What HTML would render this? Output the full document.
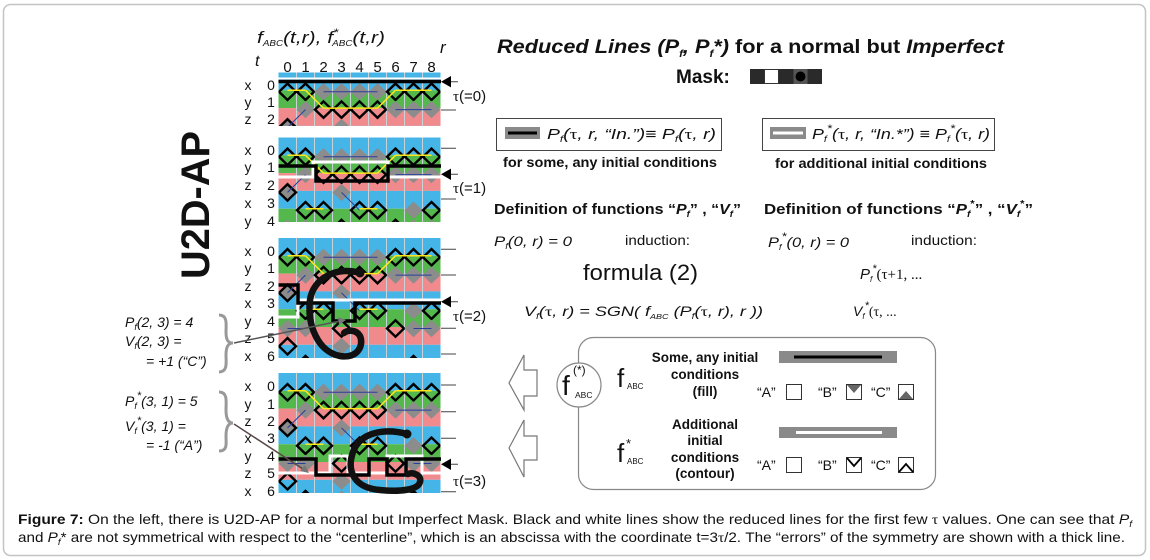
<!DOCTYPE html>
<html><head><meta charset="utf-8"><style>
html,body{margin:0;padding:0;background:#fff;}
svg{display:block;}
text{font-family:"Liberation Sans",sans-serif;fill:#111;}
.s{font-family:"Liberation Serif",serif;}
</style></head><body>
<svg width="1150" height="560" viewBox="0 0 1150 560" xmlns="http://www.w3.org/2000/svg">
<defs>
 <clipPath id="c1"><rect x="278.5" y="72.5" width="162" height="53.5"/></clipPath>
 <clipPath id="c2"><rect x="278.5" y="137.5" width="162" height="84.5"/></clipPath>
 <clipPath id="c3"><rect x="278.5" y="238" width="162" height="120"/></clipPath>
 <clipPath id="c4"><rect x="278.5" y="373" width="162" height="120"/></clipPath>
 <path id="dg" d="M-9,0L0,-8.7L9,0L0,8.7Z" fill="#8c8c8c"/>
 <path id="db" d="M-8.5,0L0,-8.2L8.5,0L0,8.2Z" fill="none" stroke="#000" stroke-width="2.4"/>
 <g id="bands">
  <rect x="278.5" y="0" width="162" height="17.8" fill="#45b5e8"/>
  <rect x="278.5" y="17.8" width="162" height="17.8" fill="#55b84c"/>
  <rect x="278.5" y="35.6" width="162" height="17.8" fill="#f08a8c"/>
  <rect x="278.5" y="53.4" width="162" height="17.8" fill="#45b5e8"/>
  <rect x="278.5" y="71.2" width="162" height="17.8" fill="#55b84c"/>
  <rect x="278.5" y="89" width="162" height="17.8" fill="#f08a8c"/>
  <rect x="278.5" y="106.8" width="162" height="17.8" fill="#45b5e8"/>
  <path d="M296.5,0V130M314.5,0V130M332.5,0V130M350.5,0V130M368.5,0V130M386.5,0V130M404.5,0V130M422.5,0V130" stroke="#c9d2d6" stroke-width="1"/>
 </g>
 <g id="pat">
  <use href="#db" x="287.5" y="19.3"/><use href="#db" x="305.5" y="19.3"/>
  <use href="#dg" x="323.5" y="19.3"/><use href="#dg" x="341.5" y="19.3"/><use href="#dg" x="359.5" y="19.3"/><use href="#dg" x="377.5" y="19.3"/>
  <use href="#db" x="395.5" y="19.3"/><use href="#db" x="413.5" y="19.3"/><use href="#db" x="431.5" y="19.3"/>
  <use href="#dg" x="305.5" y="37.1"/>
  <use href="#db" x="323.5" y="37.1"/><use href="#db" x="341.5" y="37.1"/><use href="#db" x="359.5" y="37.1"/><use href="#db" x="377.5" y="37.1"/>
  <use href="#dg" x="395.5" y="37.1"/><use href="#dg" x="413.5" y="37.1"/><use href="#dg" x="431.5" y="37.1"/>
  <use href="#dg" x="287.5" y="54.9"/><use href="#db" x="287.5" y="54.9"/><use href="#dg" x="341.5" y="54.9"/>
  <use href="#db" x="305.5" y="72.7"/><use href="#db" x="323.5" y="72.7"/><use href="#db" x="359.5" y="72.7"/><use href="#db" x="377.5" y="72.7"/>
  <use href="#dg" x="413.5" y="72.7"/><use href="#db" x="431.5" y="72.7"/>
  <use href="#dg" x="287.5" y="90.5"/><use href="#dg" x="305.5" y="90.5"/><use href="#db" x="341.5" y="90.5"/>
  <use href="#db" x="395.5" y="90.5"/><use href="#dg" x="413.5" y="90.5"/><use href="#dg" x="431.5" y="90.5"/>
  <use href="#db" x="287.5" y="108.3"/><use href="#dg" x="341.5" y="108.3"/>
  <use href="#db" x="305.5" y="126.1"/><use href="#dg" x="341.5" y="126.1"/><use href="#db" x="413.5" y="126.1"/>
  <path d="M287.5,17.8H305.5M395.5,17.8H431.5M323.5,35.6H377.5M305.5,71.2H323.5M359.5,71.2H377.5M305.5,17.8L323.5,35.6M377.5,35.6L395.5,17.8" stroke="#ffe81a" stroke-width="1.5" fill="none"/>
  <path d="M323.5,19.3H377.5M395.5,37.1H431.5M287.5,90.5H305.5M413.5,90.5H431.5M305.5,37.1L287.5,54.9M341.5,54.9L359.5,72.7" stroke="#2b3f9a" stroke-width="1" fill="none"/>
 </g>
</defs>

<rect x="3.5" y="4.5" width="1142" height="551" rx="7" fill="#fff" stroke="#c4c4c4" stroke-width="1.5"/>

<!-- header of grid -->
<text x="257" y="43" font-size="17" font-style="italic" textLength="128" lengthAdjust="spacingAndGlyphs">f<tspan font-size="8" dy="3">ABC</tspan><tspan dy="-3">(t,r),  f</tspan><tspan font-size="11" dy="-7">*</tspan><tspan font-size="8" dx="-5" dy="10">ABC</tspan><tspan dy="-3">(t,r)</tspan></text>
<text x="440" y="53" font-size="17" font-style="italic">r</text>
<text x="255" y="66" font-size="16" font-style="italic">t</text>
<g font-size="15" text-anchor="middle">
<text x="287.5" y="72">0</text><text x="305.5" y="72">1</text><text x="323.5" y="72">2</text><text x="341.5" y="72">3</text><text x="359.5" y="72">4</text><text x="377.5" y="72">5</text><text x="395.5" y="72">6</text><text x="413.5" y="72">7</text><text x="431.5" y="72">8</text>
</g>

<!-- U2D-AP -->
<text transform="translate(209,205) rotate(-90)" text-anchor="middle" font-size="40" font-weight="bold" textLength="148" lengthAdjust="spacingAndGlyphs">U2D-AP</text>

<!-- panels -->
<g clip-path="url(#c1)"><g transform="translate(0,72.5)"><use href="#bands"/><use href="#pat"/></g></g>
<g clip-path="url(#c2)"><g transform="translate(0,137.5)"><use href="#bands"/><use href="#pat"/></g></g>
<g clip-path="url(#c3)"><g transform="translate(0,238)"><use href="#bands"/><use href="#pat"/></g></g>
<g clip-path="url(#c4)"><g transform="translate(0,373)"><use href="#bands"/><use href="#pat"/></g></g>

<!-- row labels -->
<g font-size="14" text-anchor="middle">
<text x="248" y="90">x</text><text x="271" y="90">0</text>
<text x="248" y="107">y</text><text x="271" y="107">1</text>
<text x="248" y="124">z</text><text x="271" y="124">2</text>

<text x="248" y="155">x</text><text x="271" y="155">0</text>
<text x="248" y="172">y</text><text x="271" y="172">1</text>
<text x="248" y="190">z</text><text x="271" y="190">2</text>
<text x="248" y="208">x</text><text x="271" y="208">3</text>
<text x="248" y="226">y</text><text x="271" y="226">4</text>

<text x="248" y="256">x</text><text x="271" y="256">0</text>
<text x="248" y="273">y</text><text x="271" y="273">1</text>
<text x="248" y="291">z</text><text x="271" y="291">2</text>
<text x="248" y="308">x</text><text x="271" y="308">3</text>
<text x="248" y="326">y</text><text x="271" y="326">4</text>
<text x="248" y="343">z</text><text x="271" y="343">5</text>
<text x="248" y="361">x</text><text x="271" y="361">6</text>

<text x="248" y="391">x</text><text x="271" y="391">0</text>
<text x="248" y="409">y</text><text x="271" y="409">1</text>
<text x="248" y="426">z</text><text x="271" y="426">2</text>
<text x="248" y="443">x</text><text x="271" y="443">3</text>
<text x="248" y="461">y</text><text x="271" y="461">4</text>
<text x="248" y="478">z</text><text x="271" y="478">5</text>
<text x="248" y="496">x</text><text x="271" y="496">6</text>
</g>

<!-- reduced lines -->
<g fill="none" stroke-linejoin="miter">
<path d="M278.5,78.5H441" stroke="#fff" stroke-width="2"/>
<path d="M278.5,81.5H441" stroke="#000" stroke-width="3.5"/>

<path d="M278.5,177H313V162H388V177H441" stroke="#fff" stroke-width="3"/>
<path d="M278.5,166H316V181H388V166H441" stroke="#000" stroke-width="3.5"/>

<path d="M278.5,317H298V300H441" stroke="#fff" stroke-width="3"/>
<path d="M278.5,285H298V303H333V321H355V303H441" stroke="#000" stroke-width="3.5"/>

<path d="M278.5,473H330V456H348V473H387V456H422V473H441" stroke="#fff" stroke-width="3"/>
<path d="M278.5,459H316V475H369V459H387V475H406V459H441" stroke="#000" stroke-width="3.5"/>

<path d="M360,273C337,266 313,278 310,300C307,325 318,352 340,356C358,359 364,345 360,336C356,329 347,330 344,333" stroke="#111" stroke-width="6.5" stroke-linecap="round"/>
<path d="M407,434C385,428 360,432 353,452C346,472 355,488 380,490C400,492 418,490 420,482C422,475 413,472 408,474" stroke="#111" stroke-width="6.5" stroke-linecap="round"/>
</g>
<circle cx="360" cy="273" r="4.5" fill="#111"/>
<circle cx="407" cy="434" r="4.5" fill="#111"/>

<!-- right ticks & arrows -->
<g stroke="#444" stroke-width="1">
<path d="M441,110H456M441,148.3H456M441,199H456M441,249.3H456M441,275H456M441,328.3H456M441,354H456M441,385H456M441,411.7H456M441,438.3H456M441,491.7H456"/>
<path d="M450,81.7H458M450,174.3H458M450,301.7H458M450,464.3H458"/>
</g>
<g fill="#000">
<polygon points="441,81.7 451,76 451,87.4"/>
<polygon points="441,174.3 451,168.6 451,180"/>
<polygon points="441,301.7 451,296 451,307.4"/>
<polygon points="441,464.3 451,458.6 451,470"/>
</g>
<g font-size="15">
<text x="453" y="101"><tspan class="s">τ</tspan>(=0)</text>
<text x="453" y="193"><tspan class="s">τ</tspan>(=1)</text>
<text x="453" y="321"><tspan class="s">τ</tspan>(=2)</text>
<text x="453" y="486"><tspan class="s">τ</tspan>(=3)</text>
</g>

<!-- left annotations -->
<g font-size="14" font-style="italic">
<text x="125" y="327">P<tspan font-size="9" dy="3">f</tspan><tspan dy="-3">(2, 3) = 4</tspan></text>
<text x="125" y="346">V<tspan font-size="9" dy="3">f</tspan><tspan dy="-3">(2, 3) =</tspan></text>
<text x="146" y="366">= +1 (“C”)</text>
<text x="125" y="406">P<tspan font-size="9" dy="3">f</tspan><tspan font-size="11" dy="-10">*</tspan><tspan dy="7">(3, 1) = 5</tspan></text>
<text x="125" y="431">V<tspan font-size="9" dy="3">f</tspan><tspan font-size="11" dy="-10">*</tspan><tspan dy="7">(3, 1) =</tspan></text>
<text x="146" y="450">= -1 (“A”)</text>
</g>
<g fill="none" stroke="#999" stroke-width="3">
<path d="M219,315C228,315 226,325 226,332C226,340 228,343 233,343C228,343 226,347 226,355C226,362 228,372 219,372"/>
<path d="M219,392C228,392 226,402 226,410C226,418 228,423 233,423C228,423 226,428 226,436C226,443 228,451 219,451"/>
</g>
<path d="M234,343L340,321" stroke="#555" stroke-width="1.5"/>
<polygon points="346,320 338,317 339,325" fill="#777"/>
<path d="M234,424L306,471" stroke="#5a4848" stroke-width="1.5"/>
<polygon points="309,473 300,471 305,465" fill="#777"/>

<!-- right side -->
<text x="497" y="53" font-size="19" font-weight="bold" textLength="507" lengthAdjust="spacingAndGlyphs"><tspan font-style="italic">Reduced Lines (P</tspan><tspan font-style="italic" font-size="10" dy="4">f</tspan><tspan font-style="italic" dy="-4">, P</tspan><tspan font-style="italic" font-size="10" dy="4">f</tspan><tspan font-style="italic" dy="-4">*)</tspan> for a normal but <tspan font-style="italic">Imperfect</tspan></text>
<text x="676" y="83" font-size="19" font-weight="bold">Mask:</text>
<rect x="750" y="69" width="72" height="15" fill="#2a2a2a"/>
<rect x="764.5" y="69.5" width="14" height="14" fill="#fff" stroke="#333"/>
<rect x="793.5" y="69" width="14" height="15" fill="#555"/>
<circle cx="800.5" cy="76.5" r="5" fill="#000"/>

<rect x="496.5" y="118.5" width="225" height="32" fill="#fff" stroke="#444"/>
<rect x="505" y="127" width="35" height="12" fill="#8a8a8a"/>
<rect x="508" y="131.5" width="29" height="3" fill="#000"/>
<text x="547" y="139" font-size="15" font-style="italic" textLength="169" lengthAdjust="spacingAndGlyphs">P<tspan font-size="9" dy="3">f</tspan><tspan dy="-3">(</tspan><tspan class="s" font-style="normal">τ</tspan>, r, “In.”)<tspan font-style="normal">≡</tspan> P<tspan font-size="9" dy="3">f</tspan><tspan dy="-3">(</tspan><tspan class="s" font-style="normal">τ</tspan>, r)</text>

<rect x="762.5" y="118.5" width="232" height="32" fill="#fff" stroke="#444"/>
<rect x="770" y="127" width="36" height="12" fill="#8a8a8a"/>
<rect x="773" y="131.5" width="30" height="3" fill="#fff"/>
<text x="812" y="139" font-size="15" font-style="italic" textLength="178" lengthAdjust="spacingAndGlyphs">P<tspan font-size="9" dy="3">f</tspan><tspan font-size="11" dy="-10">*</tspan><tspan dy="7">(</tspan><tspan class="s" font-style="normal">τ</tspan>, r, “In.*”) <tspan font-style="normal">≡</tspan> P<tspan font-size="9" dy="3">f</tspan><tspan font-size="11" dy="-10">*</tspan><tspan dy="7">(</tspan><tspan class="s" font-style="normal">τ</tspan>, r)</text>

<text x="503" y="167" font-size="14" font-weight="bold" textLength="214" lengthAdjust="spacingAndGlyphs">for some, any initial conditions</text>
<text x="775" y="168" font-size="14" font-weight="bold" textLength="212" lengthAdjust="spacingAndGlyphs">for additional initial conditions</text>

<text x="494" y="214" font-size="15" font-weight="bold" textLength="247" lengthAdjust="spacingAndGlyphs">Definition of functions “<tspan font-style="italic">P</tspan><tspan font-style="italic" font-size="9" dy="3">f</tspan><tspan dy="-3">” , “</tspan><tspan font-style="italic">V</tspan><tspan font-style="italic" font-size="9" dy="3">f</tspan><tspan dy="-3">”</tspan></text>
<text x="764" y="214" font-size="15" font-weight="bold" textLength="269" lengthAdjust="spacingAndGlyphs">Definition of functions “<tspan font-style="italic">P</tspan><tspan font-style="italic" font-size="9" dy="3">f</tspan><tspan font-size="10" dy="-10">*</tspan><tspan dy="7">” , “</tspan><tspan font-style="italic">V</tspan><tspan font-style="italic" font-size="9" dy="3">f</tspan><tspan font-size="10" dy="-10">*</tspan><tspan dy="7">”</tspan></text>

<text x="494" y="246" font-size="14" font-style="italic" textLength="78" lengthAdjust="spacingAndGlyphs">P<tspan font-size="8" dy="3">f</tspan><tspan dy="-3">(0, r) = 0</tspan></text>
<text x="625" y="245" font-size="14" textLength="65" lengthAdjust="spacingAndGlyphs">induction:</text>
<text x="768" y="247" font-size="14" font-style="italic" textLength="81" lengthAdjust="spacingAndGlyphs">P<tspan font-size="8" dy="3">f</tspan><tspan font-size="11" dy="-10">*</tspan><tspan dy="7">(0, r) = 0</tspan></text>
<text x="911" y="245" font-size="14" textLength="66" lengthAdjust="spacingAndGlyphs">induction:</text>

<text x="583" y="280" font-size="22" textLength="115" lengthAdjust="spacingAndGlyphs">formula (2)</text>
<text x="860" y="279" font-size="15" font-style="italic">P<tspan font-size="8" dy="3">f</tspan><tspan font-size="11" dy="-10">*</tspan><tspan dy="7" class="s" font-style="normal">(τ+1,  ...</tspan></text>

<text x="524" y="316" font-size="14" font-style="italic" textLength="239" lengthAdjust="spacingAndGlyphs">V<tspan font-size="8" dy="3">f</tspan><tspan dy="-3">(</tspan><tspan class="s" font-style="normal">τ</tspan>, r) = SGN( f<tspan font-size="7" dy="3">ABC</tspan><tspan dy="-3"> (P</tspan><tspan font-size="8" dy="3">f</tspan><tspan dy="-3">(</tspan><tspan class="s" font-style="normal">τ</tspan>, r), r ))</text>
<text x="853" y="316" font-size="14" font-style="italic">V<tspan font-size="8" dy="3">f</tspan><tspan font-size="11" dy="-10">*</tspan><tspan dy="7" class="s" font-style="normal">(τ, ...</tspan></text>

<!-- bottom box -->
<rect x="578.5" y="337.5" width="357" height="152" rx="15" fill="#fff" stroke="#888" stroke-width="1.2"/>
<g fill="#fff" stroke="#777" stroke-width="1.2">
<polygon points="509,383 524,355 524,370 537,370 537,396 524,396 524,410"/>
<polygon points="509,448 524,420 524,436 537,436 537,460 524,460 524,477"/>
</g>
<circle cx="579" cy="385" r="22" fill="#fff" stroke="#888" stroke-width="1.2"/>
<text x="562" y="395" font-size="28">f</text>
<text x="573" y="374" font-size="12">(*)</text>
<text x="575" y="398" font-size="8.5">ABC</text>

<text x="617" y="387" font-size="26">f</text>
<text x="627" y="389" font-size="8">ABC</text>
<text x="617" y="462" font-size="26">f</text>
<text x="626" y="448" font-size="13">*</text>
<text x="627" y="464" font-size="8">ABC</text>

<g font-size="13.5" font-weight="bold" text-anchor="middle">
<text x="705" y="362">Some, any initial</text>
<text x="705" y="379">conditions</text>
<text x="705" y="396">(fill)</text>
<text x="705" y="429">Additional</text>
<text x="705" y="445">initial</text>
<text x="705" y="462">conditions</text>
<text x="705" y="478">(contour)</text>
</g>

<rect x="779" y="351" width="118" height="12" fill="#8a8a8a"/>
<rect x="794" y="355.5" width="88" height="3" fill="#000"/>
<rect x="779" y="427" width="118" height="11" fill="#8a8a8a"/>
<rect x="796" y="431" width="86" height="3" fill="#fff"/>

<g font-size="14">
<text x="757" y="397">“A”</text><text x="818" y="397">“B”</text><text x="871" y="397">“C”</text>
<text x="757" y="470">“A”</text><text x="818" y="470">“B”</text><text x="871" y="470">“C”</text>
</g>
<g fill="#fff" stroke="#333" stroke-width="1">
<rect x="786.5" y="384.5" width="15" height="15"/>
<rect x="846.5" y="384.5" width="15" height="15"/>
<rect x="898.5" y="384.5" width="15" height="15"/>
<rect x="786.5" y="457.5" width="15" height="15"/>
<rect x="846.5" y="457.5" width="15" height="15"/>
<rect x="898.5" y="457.5" width="15" height="15"/>
</g>
<polygon points="847,385 861,385 854,393" fill="#666"/>
<polygon points="899,399 913,399 906,391" fill="#666"/>
<path d="M847,458L854,466L861,458" fill="none" stroke="#000" stroke-width="1.8"/>
<path d="M899,472L906,464L913,472" fill="none" stroke="#000" stroke-width="1.8"/>

<!-- caption -->
<text x="18" y="524" font-size="14" textLength="1114" lengthAdjust="spacingAndGlyphs"><tspan font-weight="bold">Figure 7:</tspan> On the left, there is U2D-AP for a normal but Imperfect Mask. Black and white lines show the reduced lines for the first few <tspan class="s">τ</tspan> values. One can see that <tspan font-style="italic">P</tspan><tspan font-style="italic" font-size="9" dy="3">f</tspan></text>
<text x="18" y="542" font-size="14" textLength="1107" lengthAdjust="spacingAndGlyphs">and <tspan font-style="italic">P</tspan><tspan font-style="italic" font-size="9" dy="3">f</tspan><tspan dy="-3">* are not symmetrical with respect to the “centerline”, which is an abscissa with the coordinate t=3</tspan><tspan class="s">τ</tspan>/2. The “errors” of the symmetry are shown with a thick line.</text>
</svg>
</body></html>
